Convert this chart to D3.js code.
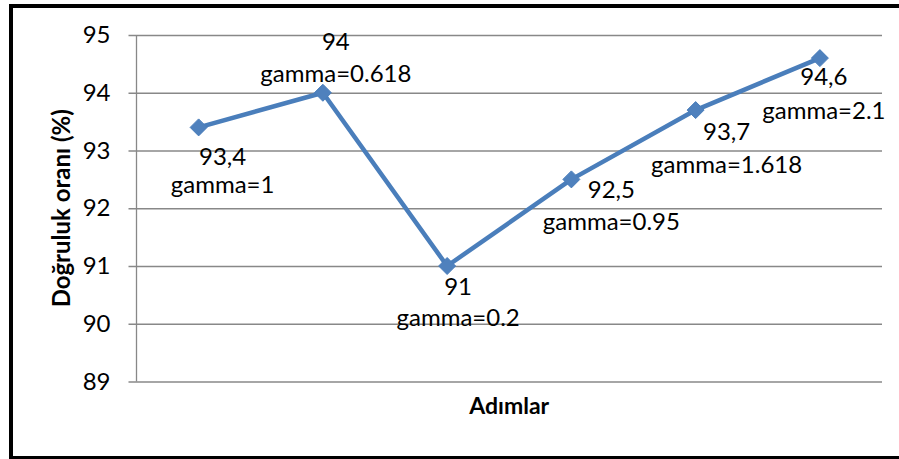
<!DOCTYPE html>
<html>
<head>
<meta charset="utf-8">
<script src="https://cdn.jsdelivr.net/npm/d3@7"></script>
<style>
  html, body { margin: 0; padding: 0; background: #fff; }
  svg { display: block; }
  text { font-family: Lato, "Open Sans", sans-serif; fill: #000; }
</style>
</head>
<body>
<svg id="chart" width="899" height="459"></svg>
<script>
// Accuracy (%) per step, with the gamma used at each step
const steps = ["1", "2", "3", "4", "5", "6"];
const accuracy = [93.4, 94, 91, 92.5, 93.7, 94.6];
const gammaLabels = ["gamma=1", "gamma=0.618", "gamma=0.2", "gamma=0.95", "gamma=1.618", "gamma=2.1"];
const yTicks = [89, 90, 91, 92, 93, 94, 95];
const yTitle = "Doğruluk oranı (%)";
const xTitle = "Adımlar";

// Label placement around each marker: [dx, dy of value line, dy of gamma line]
const labelOffsets = [
  [24, 38, 66],
  [13, -43, -11],
  [11, 29, 60],
  [40, 19, 51],
  [31, 30, 63],
  [4, 27, 61]
];

const svg = d3.select("#chart");
const W = 899, H = 459;
const margin = { left: 136.5, right: 17, top: 35, bottom: 77.5 };
const plotW = W - margin.left - margin.right;
const plotH = H - margin.top - margin.bottom;
const labelSize = 24;

// outer frame
svg.append("rect")
  .attr("x", 11).attr("y", 6)
  .attr("width", 900).attr("height", 452)
  .attr("fill", "none").attr("stroke", "#000").attr("stroke-width", 4);

const g = svg.append("g").attr("transform", `translate(${margin.left},${margin.top})`);

const x = d3.scalePoint().domain(steps).range([0, plotW]).padding(0.5);
const y = d3.scaleLinear().domain([89, 95]).range([plotH, 0]);

// horizontal gridlines with outside tick marks
const yAxis = d3.axisLeft(y).tickValues(yTicks).tickSize(0).tickPadding(0).tickFormat(d3.format("d"));
const ya = g.append("g").call(yAxis);
ya.select(".domain").remove();
ya.selectAll(".tick line")
  .attr("stroke", "#888").attr("stroke-width", 1.3)
  .attr("x1", -8).attr("x2", plotW);
ya.selectAll(".tick text")
  .attr("font-size", labelSize).attr("font-family", "Lato").attr("fill", "#000")
  .attr("x", -26);

// vertical axis line
g.append("line")
  .attr("x1", 0).attr("x2", 0).attr("y1", 0).attr("y2", plotH)
  .attr("stroke", "#888").attr("stroke-width", 1.3);

// data line
const line = d3.line().x((d, i) => x(steps[i])).y(d => y(d));
g.append("path")
  .datum(accuracy)
  .attr("d", line)
  .attr("fill", "none")
  .attr("stroke", "#4A7EBB")
  .attr("stroke-width", 4.5)
  .attr("stroke-linejoin", "round");

// diamond markers
const r = 8.5;
g.selectAll(".marker")
  .data(accuracy)
  .join("path")
  .attr("class", "marker")
  .attr("transform", (d, i) => `translate(${x(steps[i])},${y(d)})`)
  .attr("d", `M0,${-r}L${r},0L0,${r}L${-r},0Z`)
  .attr("fill", "#4F81BD")
  .attr("stroke", "#4A7EBB")
  .attr("stroke-width", 1);

// data labels: value (decimal comma) and gamma
const fmt = v => String(v).replace(".", ",");
const labels = g.selectAll(".lbl")
  .data(accuracy)
  .join("g")
  .attr("class", "lbl")
  .attr("transform", (d, i) => `translate(${x(steps[i]) + labelOffsets[i][0]},${y(d)})`);
labels.append("text")
  .attr("text-anchor", "middle")
  .attr("font-size", labelSize)
  .attr("y", (d, i) => labelOffsets[i][1])
  .text(d => fmt(d));
labels.append("text")
  .attr("text-anchor", "middle")
  .attr("font-size", labelSize)
  .attr("y", (d, i) => labelOffsets[i][2])
  .text((d, i) => gammaLabels[i]);

// axis titles
svg.append("text")
  .attr("transform", `translate(70,${margin.top + plotH / 2}) rotate(-90)`)
  .attr("text-anchor", "middle")
  .attr("font-size", 24)
  .attr("font-weight", "bold")
  .text(yTitle);

svg.append("text")
  .attr("x", margin.left + plotW / 2)
  .attr("y", 414)
  .attr("text-anchor", "middle")
  .attr("font-size", 23)
  .attr("font-weight", "bold")
  .text(xTitle);
</script>
</body>
</html>
